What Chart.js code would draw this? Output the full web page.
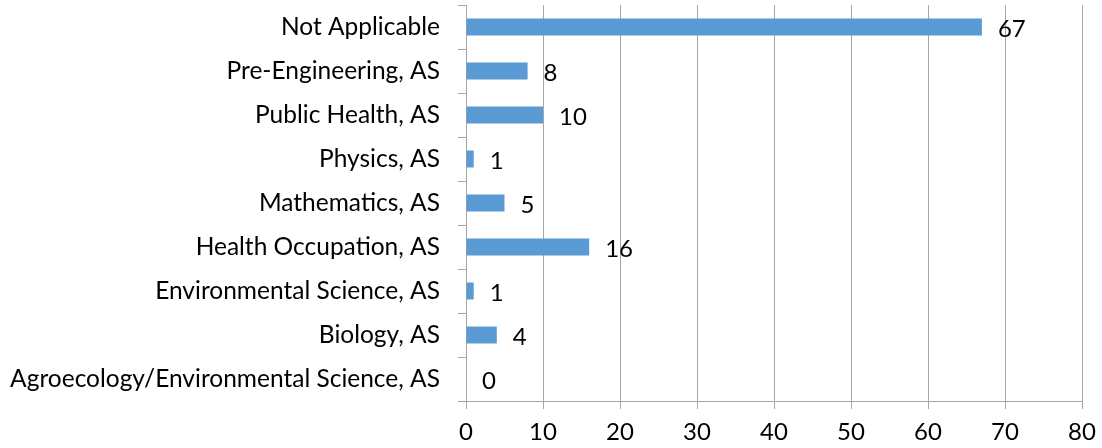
<!DOCTYPE html>
<html>
<head>
<meta charset="utf-8">
<script src="https://cdn.jsdelivr.net/npm/chart.js@4.4.0/dist/chart.umd.min.js"></script>
<style>
  html, body { margin: 0; padding: 0; background: #fff; }
  #wrap { width: 1102px; height: 448px; }
</style>
</head>
<body>
<div id="wrap"><canvas id="programChart" width="1102" height="448"></canvas></div>
<script>
const programs = [
    'Not Applicable',
    'Pre-Engineering, AS',
    'Public Health, AS',
    'Physics, AS',
    'Mathematics, AS',
    'Health Occupation, AS',
    'Environmental Science, AS',
    'Biology, AS',
    'Agroecology/Environmental Science, AS'
];
const counts = [67, 8, 10, 1, 5, 16, 1, 4, 0];
const xTicks = [0, 10, 20, 30, 40, 50, 60, 70, 80];

const fontFamily = "Lato, 'Open Sans', sans-serif";
const gridColor = '#a6a6a6';

// value labels to the right of each bar
const valueLabels = {
    id: 'valueLabels',
    afterDatasetsDraw(chart) {
        const ctx = chart.ctx;
        const meta = chart.getDatasetMeta(0);
        ctx.save();
        ctx.font = '24px ' + fontFamily;
        ctx.fillStyle = '#000';
        ctx.textBaseline = 'middle';
        ctx.textAlign = 'left';
        meta.data.forEach((bar, i) => {
            ctx.fillText(String(counts[i]), bar.x + 16, bar.y + 2);
        });
        ctx.restore();
    }
};

const ctx = document.getElementById('programChart').getContext('2d');
const myChart = new Chart(ctx, {
    type: 'bar',
    data: {
        labels: programs,
        datasets: [{
            data: counts,
            backgroundColor: '#5b9bd5',
            borderWidth: 0,
            barPercentage: 0.386,
            categoryPercentage: 1
        }]
    },
    plugins: [valueLabels],
    options: {
        indexAxis: 'y',
        responsive: false,
        animation: false,
        layout: { padding: { top: 5, right: 20, left: 0, bottom: 0 } },
        plugins: {
            legend: { display: false },
            tooltip: { enabled: false }
        },
        scales: {
            x: {
                min: 0,
                max: 80,
                afterBuildTicks: scale => { scale.ticks = xTicks.map(v => ({ value: v })); },
                afterFit: scale => {
                    scale.height = 47;
                    scale.paddingLeft = 0;
                    scale.paddingRight = 0;
                },
                grid: { color: gridColor, lineWidth: 1, tickLength: 8 },
                border: { color: gridColor },
                ticks: { color: '#000', font: { family: fontFamily, size: 24 }, padding: 9 }
            },
            y: {
                afterFit: scale => {
                    scale.width = 466;
                    scale.paddingTop = 0;
                    scale.paddingBottom = 0;
                },
                grid: { color: gridColor, drawOnChartArea: false, tickLength: 8, offset: true },
                border: { color: gridColor },
                ticks: { color: '#000', font: { family: fontFamily, size: 24.5 }, padding: 18 }
            }
        }
    }
});
</script>
</body>
</html>
